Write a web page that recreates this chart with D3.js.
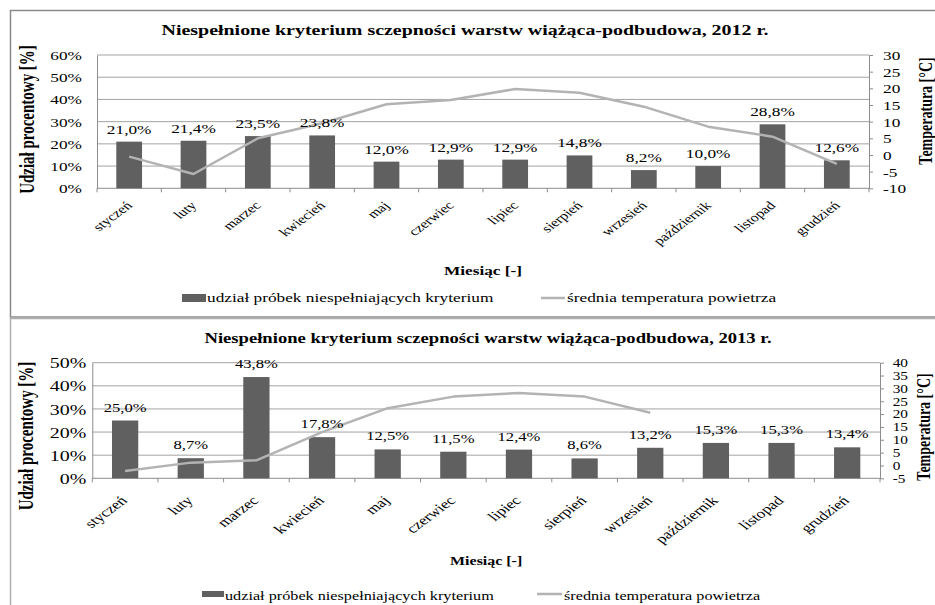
<!DOCTYPE html>
<html><head><meta charset="utf-8">
<script src="https://cdn.jsdelivr.net/npm/d3@7"></script>
<style>
body{margin:0;background:#fff}
text{font-family:"Liberation Serif","Times New Roman",serif;fill:#000}
</style>
</head><body>
<svg id="c" width="935" height="605"></svg>
<script>
// ---------- data ----------
const months = ["styczeń","luty","marzec","kwiecień","maj","czerwiec","lipiec","sierpień","wrzesień","październik","listopad","grudzień"];
const share2012 = [21.0,21.4,23.5,23.8,12.0,12.9,12.9,14.8,8.2,10.0,28.8,12.6];
const temp2012  = [-0.5,-5.7,5.0,9.5,15.2,16.5,19.8,18.7,14.5,8.5,5.5,-2.7];
const share2013 = [25.0,8.7,43.8,17.8,12.5,11.5,12.4,8.6,13.2,15.3,15.3,13.4];
const temp2013  = [-2.2,1.1,2.0,13.0,22.3,26.8,28.2,26.8,20.5,null,null,null];
const shareTicks2012 = [0,10,20,30,40,50,60];
const tempTicks2012  = [-10,-5,0,5,10,15,20,25,30];
const shareTicks2013 = [0,10,20,30,40,50];
const tempTicks2013  = [-5,0,5,10,15,20,25,30,35,40];
const title2012 = "Niespełnione kryterium sczepności warstw wiążąca-podbudowa, 2012 r.";
const title2013 = "Niespełnione kryterium sczepności warstw wiążąca-podbudowa, 2013 r.";
const xTitle = "Miesiąc [-]";
const yTitle = "Udział procentowy [%]";
const y2Title = "Temperatura [°C]";
const legendBar = "udział próbek niespełniających kryterium";
const legendLine = "średnia temperatura powietrza";

// ---------- drawing ----------
const svg = d3.select("#c");
const SX = 1.33;
const BAR = "#606060", LINE = "#b3b3b3", GRID = "#a3a3a3", AXIS = "#8c8c8c";
const FONT = "'Liberation Serif','Times New Roman',serif";
const pct = v => d3.format(".1f")(v).replace(".", ",") + "%";

function draw(o) {
  const g = svg.append("g");
  g.append("rect").attr("x", o.box[0]).attr("y", o.box[1]).attr("width", o.box[2]).attr("height", o.box[3])
    .attr("fill", "none").attr("stroke", o.boxColor).attr("stroke-width", 1.5);

  const x = d3.scaleBand().domain(months).range([o.x0, o.x1]).paddingInner(0.6).paddingOuter(0.3);
  const y = d3.scaleLinear().domain([0, d3.max(o.shareTicks)]).range([o.yb, o.yt]);
  const y2 = d3.scaleLinear().domain(d3.extent(o.tempTicks)).range([o.yb, o.yt]);
  const bw = x.bandwidth();
  const cx = m => x(m) + bw / 2;

  // gridlines
  g.append("g").selectAll("line").data(o.shareTicks.filter(t => t > 0)).join("line")
    .attr("x1", o.x0).attr("x2", o.x1).attr("y1", d => y(d)).attr("y2", d => y(d))
    .attr("stroke", GRID).attr("stroke-width", 1);

  // left axis
  const la = g.append("g").attr("transform", `translate(${o.x0},0)`)
    .call(d3.axisLeft(y).tickValues(o.shareTicks).tickFormat(d => d + "%").tickSize(0).tickSizeOuter(0));
  la.attr("font-family", FONT);
  la.select(".domain").attr("stroke", AXIS);
  la.selectAll("text").attr("x", null).attr("dy", "0.34em")
    .attr("transform", `translate(${-o.lpad},0) scale(${SX},1)`)
    .style("font-size", o.tickFs + "px").attr("fill", "#000");

  // right axis
  const ra = g.append("g").attr("transform", `translate(${o.x1},0)`)
    .call(d3.axisRight(y2).tickValues(o.tempTicks).tickFormat(d => String(d)).tickSize(4).tickSizeOuter(0));
  ra.attr("font-family", FONT);
  ra.select(".domain").attr("stroke", AXIS);
  ra.selectAll("line").attr("stroke", AXIS);
  ra.selectAll("text").attr("x", null).attr("dy", "0.34em")
    .attr("transform", `translate(${o.rpad},0) scale(${SX},1)`)
    .style("font-size", o.rtickFs + "px").attr("fill", "#000");

  // x axis line and boundary ticks
  g.append("line").attr("x1", o.x0).attr("x2", o.x1).attr("y1", o.yb).attr("y2", o.yb).attr("stroke", AXIS);
  g.append("g").selectAll("line").data(d3.range(months.length + 1)).join("line")
    .attr("x1", i => o.x0 + i * x.step()).attr("x2", i => o.x0 + i * x.step())
    .attr("y1", o.yb).attr("y2", o.yb + 4).attr("stroke", AXIS);

  // x labels (stretched, rotated -45°)
  g.append("g").selectAll("text").data(months).join("text")
    .attr("text-anchor", "end")
    .attr("transform", m => `translate(${cx(m) + o.xlDx},${o.yb + o.xlDy}) scale(${SX},1) rotate(-45)`)
    .style("font-size", o.xlFs + "px").text(m => m);

  // bars
  g.append("g").selectAll("rect").data(o.share).join("rect")
    .attr("x", (d, i) => x(months[i])).attr("y", d => y(d))
    .attr("width", bw).attr("height", d => o.yb - y(d)).attr("fill", BAR);

  // line
  const ln = d3.line().defined(d => d != null).x((d, i) => cx(months[i])).y(d => y2(d));
  g.append("path").datum(o.temp).attr("d", ln).attr("fill", "none")
    .attr("stroke", LINE).attr("stroke-width", 2.5).attr("stroke-linejoin", "round");

  // data labels
  g.append("g").selectAll("text").data(o.share).join("text")
    .attr("text-anchor", "middle")
    .attr("transform", (d, i) => `translate(${cx(months[i])},${y(d) - o.dlOff}) scale(${SX},1)`)
    .style("font-size", o.dlFs + "px").text(d => pct(d));

  // title
  g.append("text").attr("text-anchor", "middle")
    .attr("transform", `translate(${o.titleX},${o.titleY}) scale(${SX},1)`)
    .style("font-size", o.titleFs + "px").style("font-weight", "bold").text(o.title);

  // axis titles
  g.append("text").attr("text-anchor", "middle")
    .attr("transform", `translate(${(o.x0 + o.x1) / 2},${o.xTitleY}) scale(${SX},1)`)
    .style("font-size", o.xTitleFs + "px").style("font-weight", "bold").text(xTitle);
  g.append("text").attr("text-anchor", "middle").attr("dy", "0.35em")
    .attr("transform", `translate(${o.yTitlePos[0]},${o.yTitlePos[1]}) scale(${SX},1) rotate(-90)`)
    .style("font-size", o.yTitleFs + "px").style("font-weight", "bold").text(yTitle);
  g.append("text").attr("text-anchor", "middle").attr("dy", "0.35em")
    .attr("transform", `translate(${o.y2TitlePos[0]},${o.y2TitlePos[1]}) scale(${SX},1) rotate(-90)`)
    .style("font-size", o.y2TitleFs + "px").style("font-weight", "bold").text(y2Title);

  // legend
  const L = o.legend;
  g.append("rect").attr("x", L.rx).attr("y", L.ry).attr("width", L.rw).attr("height", L.rh).attr("fill", BAR);
  g.append("text").attr("transform", `translate(${L.rx + L.rw + 1},${L.ty}) scale(${SX},1)`)
    .style("font-size", L.fs + "px").text(legendBar);
  g.append("line").attr("x1", L.lx).attr("x2", L.lx + L.lw).attr("y1", L.ly).attr("y2", L.ly)
    .attr("stroke", LINE).attr("stroke-width", 2.5);
  g.append("text").attr("transform", `translate(${L.lx + L.lw + 2},${L.ty}) scale(${SX},1)`)
    .style("font-size", L.fs + "px").text(legendLine);
}

draw({
  box: [10.5, 10.5, 940, 306.5], boxColor: "#8a8a8a",
  x0: 97, x1: 869, yt: 55, yb: 188.3,
  share: share2012, temp: temp2012, shareTicks: shareTicks2012, tempTicks: tempTicks2012,
  tickFs: 13, rtickFs: 13, lpad: 15, rpad: 14,
  xlFs: 12, xlDx: 4, xlDy: 18,
  dlFs: 13, dlOff: 8,
  title: title2012, titleX: 465, titleY: 35, titleFs: 15,
  xTitleY: 275, xTitleFs: 13,
  yTitlePos: [27, 119.5], yTitleFs: 15,
  y2TitlePos: [925, 111], y2TitleFs: 14,
  legend: {rx: 182, ry: 294, rw: 24, rh: 8, ty: 302, lx: 541, lw: 24, ly: 298, fs: 13}
});

draw({
  box: [10.5, 318.5, 960, 300], boxColor: "#b0b0b0",
  x0: 92.3, x1: 880, yt: 362.7, yb: 478.3,
  share: share2013, temp: temp2013, shareTicks: shareTicks2013, tempTicks: tempTicks2013,
  tickFs: 15, rtickFs: 11.5, lpad: 6, rpad: 12.7,
  xlFs: 13, xlDx: 3, xlDy: 23,
  dlFs: 12.5, dlOff: 9,
  title: title2013, titleX: 488, titleY: 343, titleFs: 14,
  xTitleY: 565, xTitleFs: 12,
  yTitlePos: [26, 436], yTitleFs: 15,
  y2TitlePos: [923, 427], y2TitleFs: 14,
  legend: {rx: 202, ry: 591, rw: 22, rh: 6, ty: 600, lx: 537, lw: 25, ly: 594, fs: 12.2}
});
</script>
</body></html>
